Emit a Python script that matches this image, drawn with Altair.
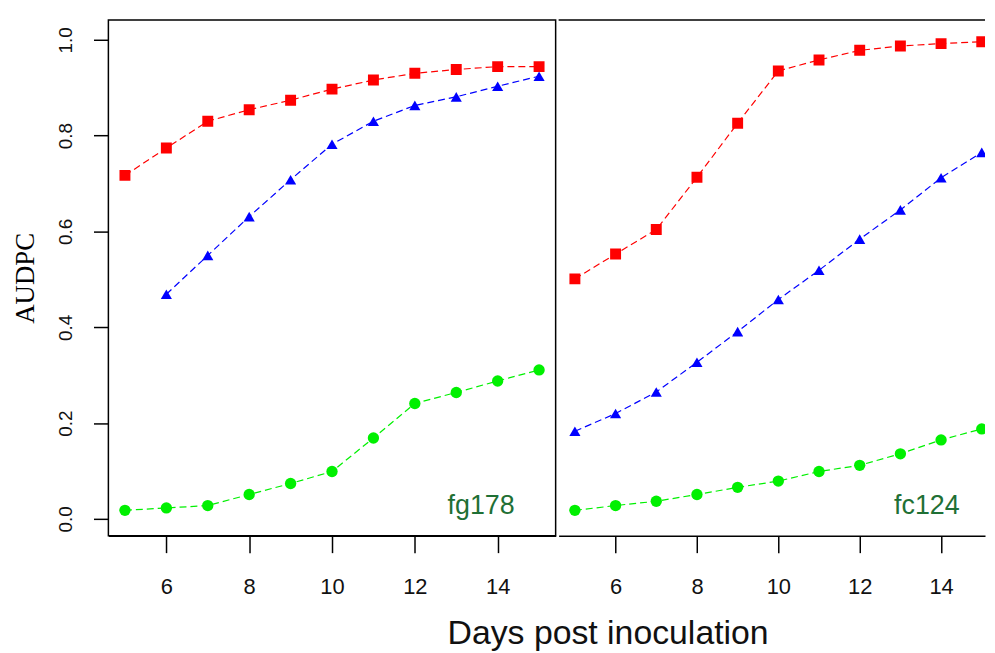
import altair as alt
import pandas as pd

days = [5, 6, 7, 8, 9, 10, 11, 12, 13, 14, 15]
series_names = ["Series A", "Series B", "Series C"]
series_colors = ["#FF0000", "#0000FF", "#00F000"]
series_shapes = ["square", "triangle-up", "circle"]
series_sizes = [121, 130, 105]

fg178_a = [0.717, 0.774, 0.830, 0.854, 0.874, 0.897, 0.916, 0.930, 0.938, 0.944, 0.944]
fg178_b = [None, 0.469, 0.550, 0.631, 0.708, 0.782, 0.830, 0.863, 0.881, 0.903, 0.924]
fg178_c = [0.018, 0.023, 0.028, 0.051, 0.074, 0.099, 0.169, 0.241, 0.264, 0.288, 0.311]

fc124_a = [0.501, 0.553, 0.604, 0.713, 0.826, 0.935, 0.958, 0.978, 0.987, 0.992, 0.996]
fc124_b = [0.183, 0.220, 0.265, 0.327, 0.391, 0.458, 0.519, 0.584, 0.645, 0.712, 0.765]
fc124_c = [0.018, 0.028, 0.037, 0.051, 0.066, 0.079, 0.099, 0.112, 0.136, 0.165, 0.188]

panel_names = ["fg178", "fc124"]
label_x = [13.6, 13.65]
label_y = [0.027, 0.027]

x_ticks = [6, 8, 10, 12, 14]
y_ticks = [0.0, 0.2, 0.4, 0.6, 0.8, 1.0]


def long_df(lists):
    rows = []
    for name, vals in zip(series_names, lists):
        for d, v in zip(days, vals):
            if v is not None:
                rows.append({"series": name, "day": d, "value": v})
    return pd.DataFrame(rows)


def panel(df, name, lx, ly, xdomain, width, show_y):
    xaxis = alt.Axis(values=x_ticks, title=None, grid=False, tickSize=17,
                     tickWidth=1.5, tickColor="black", domain=True,
                     domainColor="black", domainWidth=1.5,
                     labelFont="Liberation Sans Narrow, Arial Narrow, sans-serif",
                     labelFontSize=22, labelColor="#111", labelPadding=24,
                     labelBaseline="top")
    if show_y:
        yaxis = alt.Axis(values=y_ticks, format=".1f", grid=False, tickSize=15,
                         tickWidth=1.5, tickColor="black", domain=False,
                         labelAngle=270, labelAlign="center", labelBaseline="bottom",
                         labelPadding=18, labelFontSize=19, labelColor="#111",
                         labelFont="Liberation Sans",
                         title="AUDPC", titleFont="Liberation Serif", titleFontSize=27,
                         titleFontWeight="normal", titleColor="black", titleAngle=270,
                         titleX=-75, titleY=259.5, titleBaseline="alphabetic",
                         titleAlign="center")
    else:
        yaxis = None
    x = alt.X("day:Q", scale=alt.Scale(domain=xdomain, nice=False, zero=False), axis=xaxis)
    y = alt.Y("value:Q", scale=alt.Scale(domain=[-0.035, 1.0415], nice=False, zero=False), axis=yaxis)
    color = alt.Color("series:N", scale=alt.Scale(domain=series_names, range=series_colors), legend=None)
    base = alt.Chart(df).encode(x=x, y=y, color=color)
    lines = base.mark_line(strokeDash=[7, 4], strokeWidth=1.2, clip=True)
    points = base.mark_point(filled=True, opacity=1, clip=True).encode(
        shape=alt.Shape("series:N", scale=alt.Scale(domain=series_names, range=series_shapes), legend=None),
        size=alt.Size("series:N", scale=alt.Scale(domain=series_names, range=series_sizes), legend=None),
    )
    ldf = pd.DataFrame({"day": [lx], "value": [ly], "label": [name]})
    text = alt.Chart(ldf).mark_text(font="Liberation Sans", fontSize=27, color="#1f7035",
                                    baseline="middle", align="center").encode(
        x=alt.X("day:Q"), y=alt.Y("value:Q"), text="label:N")
    layers = [lines, points, text]
    if not show_y:
        top = alt.Chart(pd.DataFrame({"k": [0]})).mark_rule(color="black", strokeWidth=1.5).encode(
            x=alt.value(0), x2=alt.value(width), y=alt.value(0))
        layers.append(top)
        view = alt.ViewBackground(stroke="transparent")
    else:
        view = alt.ViewBackground(stroke="black", strokeWidth=1.5)
    return alt.layer(*layers).properties(width=width, height=519, view=view)


p1 = panel(long_df([fg178_a, fg178_b, fg178_c]), panel_names[0], label_x[0], label_y[0],
           [4.6, 15.4], 450, True)
p2 = panel(long_df([fc124_a, fc124_b, fc124_c]), panel_names[1], label_x[1], label_y[1],
           [4.6, 15.08], 429, False)

chart = alt.hconcat(p1, p2, spacing=0).properties(
    padding={"left": 3, "top": 8, "right": 0, "bottom": 0},
    title=alt.TitleParams("Days post inoculation", orient="bottom", anchor="middle",
                          font="Liberation Sans", fontSize=34, fontWeight="normal",
                          color="#111", dx=110, offset=19),
).configure_view(stroke="transparent")

chart.save("out.html", embed_options={"renderer": "svg", "actions": False})
